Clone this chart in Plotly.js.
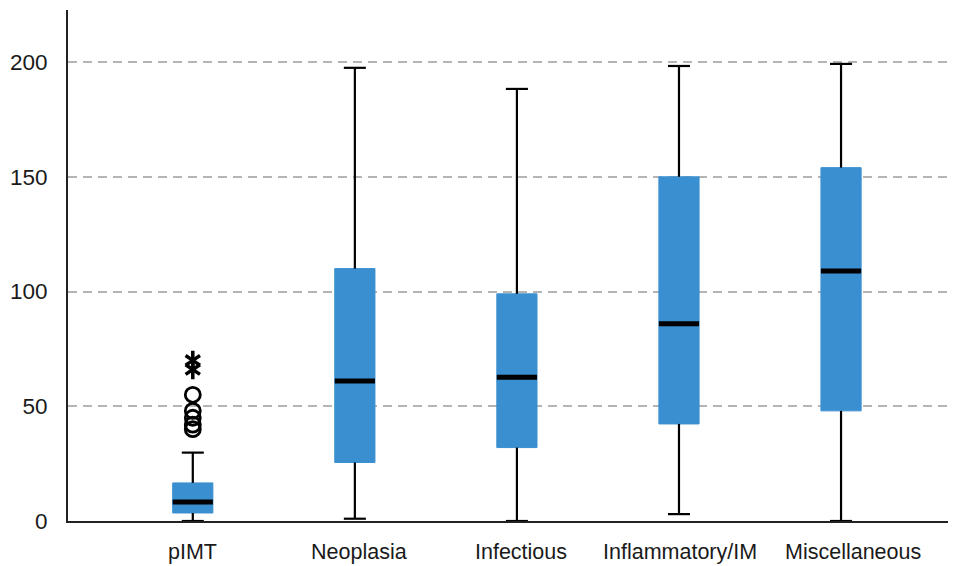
<!DOCTYPE html>
<html>
<head>
<meta charset="utf-8">
<script src="https://cdn.plot.ly/plotly-3.0.1.min.js"></script>
<style>html,body{margin:0;padding:0;background:#fff}#chart{width:957px;height:566px}</style>
</head>
<body>
<div id="chart"></div>
<script>
const categories = ["pIMT", "Neoplasia", "Infectious", "Inflammatory/IM", "Miscellaneous"];
const lowerWhisker = [0, 1, 0, 3, 0];
const q1Values = [3.5, 25.5, 32, 42.3, 48];
const medianValues = [8.3, 61, 62.7, 86, 109];
const q3Values = [16.6, 110, 99, 150, 154];
const upperWhisker = [29.8, 197.5, 188.3, 198.3, 199.2];
const outlierCircles = [55, 48, 45, 42, 40];
const outlierStars = [70, 66];
const yTicks = [0, 50, 100, 150, 200];

const boxColor = "#3a8fd0";
const halfBox = 0.124;
const halfCap = 0.068;
const labelShift = [0, 4, 4, 1, 12];
const idx = categories.map((c, i) => i);

const traces = [];
traces.push({
  type: "box",
  x: idx,
  q1: q1Values, median: medianValues, q3: q3Values,
  lowerfence: lowerWhisker, upperfence: upperWhisker,
  fillcolor: boxColor,
  line: {color: boxColor, width: 1},
  width: halfBox * 2,
  whiskerwidth: 0,
  boxpoints: false,
  hoverinfo: "skip",
  showlegend: false
});

// whiskers, caps and medians in black
const wx = [], wy = [], mx = [], my = [];
idx.forEach(i => {
  wx.push(i, i, null, i, i, null);
  wy.push(q3Values[i], upperWhisker[i], null, q1Values[i], lowerWhisker[i], null);
  wx.push(i - halfCap, i + halfCap, null, i - halfCap, i + halfCap, null);
  wy.push(upperWhisker[i], upperWhisker[i], null, lowerWhisker[i], lowerWhisker[i], null);
  mx.push(i - halfBox, i + halfBox, null);
  my.push(medianValues[i], medianValues[i], null);
});
traces.push({type: "scatter", mode: "lines", x: wx, y: wy, line: {color: "#000", width: 2.2}, hoverinfo: "skip", showlegend: false, cliponaxis: false});
traces.push({type: "scatter", mode: "lines", x: mx, y: my, line: {color: "#000", width: 5}, hoverinfo: "skip", showlegend: false});

traces.push({
  type: "scatter", mode: "markers",
  x: outlierCircles.map(() => 0), y: outlierCircles,
  marker: {symbol: "circle-open", size: 15, color: "#000", line: {width: 2.8, color: "#000"}},
  hoverinfo: "y", showlegend: false
});
["y-up-open", "y-down-open"].forEach(sym => {
  traces.push({
    type: "scatter", mode: "markers",
    x: outlierStars.map(() => 0), y: outlierStars,
    marker: {symbol: sym, size: 12, color: "#000", line: {width: 3.5, color: "#000"}},
    hoverinfo: "y", showlegend: false
  });
});

const annotations = categories.map((c, i) => ({
  text: c, x: i, xref: "x", y: 0, yref: "paper",
  xanchor: "center", yanchor: "top", yshift: -17, xshift: labelShift[i],
  showarrow: false,
  font: {size: 21.5, color: "#1a1a1a"}
}));

const layout = {
  width: 957, height: 566,
  margin: {l: 68, r: 9, t: 10, b: 45},
  paper_bgcolor: "#fff", plot_bgcolor: "#fff",
  font: {family: "Liberation Sans, Arial, sans-serif", size: 22, color: "#1a1a1a"},
  annotations: annotations,
  xaxis: {
    range: [-0.77, 4.66],
    tickvals: idx, showticklabels: false,
    showgrid: false, zeroline: false,
    showline: true, linecolor: "#222", linewidth: 2,
    ticks: ""
  },
  yaxis: {
    range: [0, 222.7],
    tickvals: yTicks,
    showgrid: true, gridcolor: "#b4b4b4", gridwidth: 2, griddash: "9px,6px",
    zeroline: false,
    showline: true, linecolor: "#222", linewidth: 2,
    ticks: "", ticklabelstandoff: 14,
    tickfont: {size: 22.5, color: "#1a1a1a"}
  }
};

Plotly.newPlot("chart", traces, layout, {displayModeBar: false, staticPlot: true});
</script>
</body>
</html>
